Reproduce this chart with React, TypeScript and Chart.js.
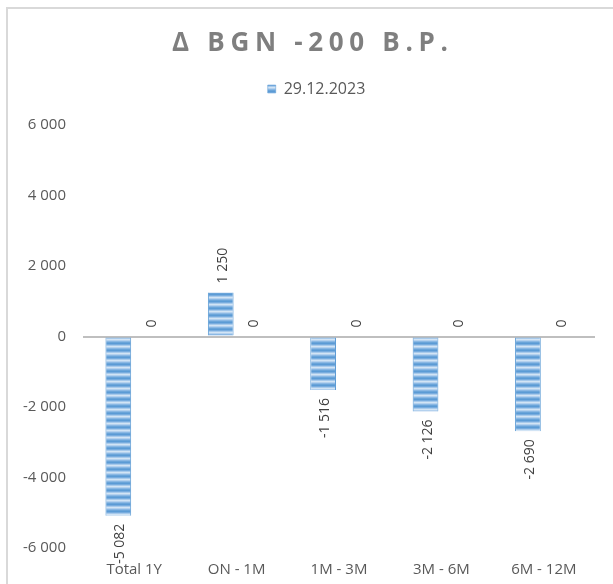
import React, { useEffect, useRef } from 'react';
import { Chart, registerables } from 'chart.js';

Chart.register(...registerables);

const categories = ['Total 1Y', 'ON - 1M', '1M - 3M', '3M - 6M', '6M - 12M'];
const seriesMain = [-5082, 1250, -1516, -2126, -2690];
const seriesZero = [0, 0, 0, 0, 0];
const seriesMainLabel = '29.12.2023';
const seriesZeroLabel = '';
const titleText = 'Δ BGN -200 B.P.';
const yMin = -6000;
const yMax = 6000;
const yStep = 2000;

const FONT = '"Open Sans", Lato, sans-serif';
const W = 613;
const H = 584;

function fmt(v: number): string {
  const s = Math.abs(Math.round(v)).toString().replace(/\B(?=(\d{3})+(?!\d))/g, ' ');
  return (v < 0 ? '-' : '') + s;
}

function makePattern(ctx: CanvasRenderingContext2D): CanvasPattern | string {
  const c = document.createElement('canvas');
  c.width = 4;
  c.height = 7;
  const g = c.getContext('2d');
  if (!g) return '#5b9bd5';
  const rows = ['#5b9bd5', '#78acde', '#a8caeb', '#d2e4f5', '#b4d1ee', '#8ab8e4', '#6aa4d9'];
  rows.forEach((col, i) => {
    g.fillStyle = col;
    g.fillRect(0, i, 4, 1);
  });
  return ctx.createPattern(c, 'repeat') || '#5b9bd5';
}

const legendGapPlugin = {
  id: 'legendGap',
  beforeLayout(chart: any) {
    const lg = chart.legend;
    if (lg && !lg.__gapPatched) {
      const orig = lg.fit;
      lg.fit = function () {
        orig.call(this);
        this.height += 18;
      };
      lg.__gapPatched = true;
    }
  },
  afterLayout(chart: any) {
    const lg = chart.legend;
    if (lg) {
      lg.left += 38;
    }
  },
};

const framePlugin = {
  id: 'frame',
  beforeDraw(chart: any) {
    const ctx = chart.ctx;
    ctx.save();
    ctx.fillStyle = '#ffffff';
    ctx.fillRect(0, 0, chart.width, chart.height);
    ctx.strokeStyle = '#d9d9d9';
    ctx.lineWidth = 2;
    ctx.beginPath();
    ctx.moveTo(7, chart.height);
    ctx.lineTo(7, 8);
    ctx.lineTo(chart.width, 8);
    ctx.stroke();
    ctx.restore();
  },
  afterDraw(chart: any) {
    const ctx = chart.ctx;
    ctx.save();
    ctx.font = `bold 26px ${FONT}`;
    (ctx as any).letterSpacing = '0px';
    const w0 = ctx.measureText(titleText).width;
    const target = 276;
    const n = Array.from(titleText).length;
    const ls = Math.max(0, (target - w0) / (n - 1));
    (ctx as any).letterSpacing = `${ls}px`;
    ctx.fillStyle = '#7f7f7f';
    ctx.textAlign = 'left';
    ctx.textBaseline = 'middle';
    ctx.fillText(titleText, 310 - target / 2, 44);
    ctx.restore();
  },
};

const labelPlugin = {
  id: 'barLabels',
  afterDatasetsDraw(chart: any) {
    const ctx = chart.ctx;
    ctx.save();
    ctx.font = `14px ${FONT}`;
    ctx.fillStyle = '#404040';
    ctx.textBaseline = 'middle';
    chart.data.datasets.forEach((ds: any, di: number) => {
      const meta = chart.getDatasetMeta(di);
      meta.data.forEach((el: any, i: number) => {
        const v = ds.data[i] as number;
        const neg = v < 0;
        const y = neg ? el.y + 8 : el.y - 9;
        ctx.save();
        ctx.translate(el.x + 2, y);
        ctx.rotate(-Math.PI / 2);
        ctx.textAlign = neg ? 'right' : 'left';
        ctx.fillText(fmt(v), 0, 0);
        ctx.restore();
      });
    });
    ctx.restore();
  },
};

export default function App() {
  const ref = useRef<HTMLCanvasElement | null>(null);

  useEffect(() => {
    const canvas = ref.current;
    if (!canvas) return;
    const ctx = canvas.getContext('2d');
    if (!ctx) return;
    const pattern = makePattern(ctx);
    const chart = new Chart(canvas, {
      type: 'bar',
      data: {
        labels: categories,
        datasets: [
          {
            label: seriesMainLabel,
            data: seriesMain,
            backgroundColor: pattern as any,
            borderColor: '#5b9bd5',
            borderWidth: { left: 1, right: 1, top: 0, bottom: 0 } as any,
            borderSkipped: false,
          },
          {
            label: seriesZeroLabel,
            data: seriesZero,
            backgroundColor: '#a5a5a5',
          },
        ],
      },
      options: {
        responsive: false,
        animation: false,
        devicePixelRatio: 1,
        datasets: {
          bar: { categoryPercentage: 0.62, barPercentage: 0.81 },
        },
        layout: { padding: { top: 71, right: 18, bottom: 0, left: 0 } },
        plugins: {
          title: { display: false },
          tooltip: { enabled: false },
          legend: {
            display: true,
            position: 'top',
            labels: {
              filter: (item: any) => item.datasetIndex === 0,
              boxWidth: 8,
              boxHeight: 8,
              padding: 10,
              color: '#595959',
              font: { family: FONT, size: 16 },
            },
          },
        },
        scales: {
          x: {
            grid: { display: false, drawTicks: false },
            border: { display: false },
            ticks: {
              color: '#595959',
              font: { family: FONT, size: 15 },
              padding: 13,
              maxRotation: 0,
              autoSkip: false,
            },
            afterFit: (scale: any) => {
              scale.height = 36;
            },
          },
          y: {
            min: yMin,
            max: yMax,
            border: { display: false },
            grid: {
              drawTicks: false,
              lineWidth: 2,
              color: (c: any) => (c.tick && c.tick.value === 0 ? '#bfbfbf' : 'rgba(0,0,0,0)'),
            },
            ticks: {
              stepSize: yStep,
              padding: 17,
              color: '#595959',
              font: { family: FONT, size: 15 },
              callback: (v: any) => fmt(Number(v)),
            },
            afterFit: (scale: any) => {
              scale.width = 83;
            },
          },
        },
      },
      plugins: [legendGapPlugin, framePlugin, labelPlugin],
    });
    return () => chart.destroy();
  }, []);

  return (
    <div style={{ position: 'absolute', left: 0, top: 0, width: W, height: H }}>
      <canvas ref={ref} width={W} height={H} style={{ width: W, height: H, display: 'block' }} />
    </div>
  );
}
